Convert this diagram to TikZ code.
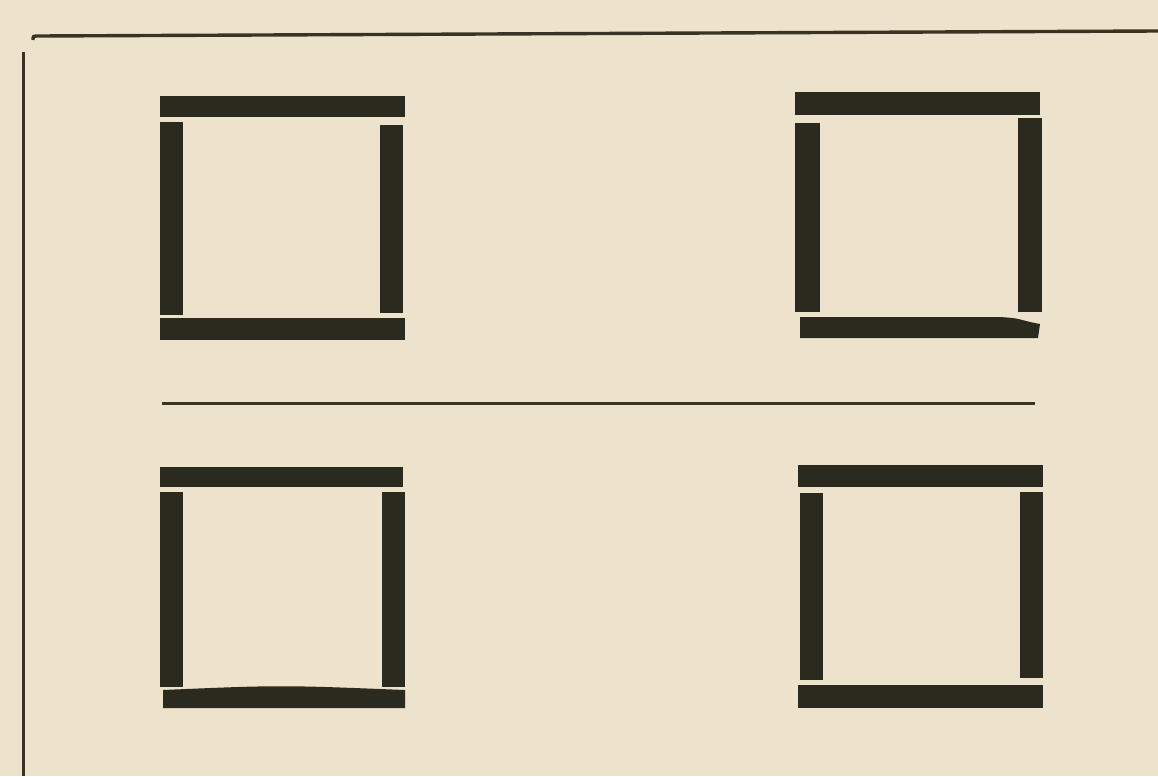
\documentclass[tikz,border=0pt]{standalone}
\definecolor{paper}{HTML}{EDE3CD}
\definecolor{ink}{HTML}{2A2A1E}
\definecolor{rule}{HTML}{3A3222}
\tikzset{
  bar/.style={fill=ink, draw=none},
  frameline/.style={draw=rule, line width=3.4pt},
  midline/.style={draw=rule, line width=2.6pt},
}
\begin{document}
\begin{tikzpicture}[x=1pt, y=-1pt]
\fill[paper] (0,0) rectangle (1158,776);
\useasboundingbox (0,0) rectangle (1158,776);
% frame
\draw[frameline] (23.5,776) -- (23.5,52);
\draw[frameline] (33,40) .. controls (33,36) .. (39,36) -- (1158,31);
% middle rule
\draw[midline] (162,403.5) -- (1035,403.5);
% top-left square
\fill[bar] (160,96) rectangle (405,117);
\fill[bar] (160,122) rectangle (183,315);
\fill[bar] (380,125) rectangle (403,313);
\fill[bar] (160,318) rectangle (405,340);
% top-right square
\fill[bar] (795,92) rectangle (1040,115);
\fill[bar] (795,123) rectangle (820,312);
\fill[bar] (1018,118) rectangle (1042,312);
\fill[bar] (800,317) -- (1000,317) .. controls (1015,318) .. (1030,322) -- (1040,324) -- (1038,338) -- (800,338) -- cycle;
% bottom-left square
\fill[bar] (160,467) rectangle (403,487);
\fill[bar] (160,492) rectangle (183,687);
\fill[bar] (382,492) rectangle (405,687);
\fill[bar] (163,690) .. controls (280,685) .. (405,690) -- (405,708) -- (163,708) -- cycle;
% bottom-right square
\fill[bar] (798,465) rectangle (1043,487);
\fill[bar] (800,493) rectangle (823,680);
\fill[bar] (1020,492) rectangle (1043,678);
\fill[bar] (798,685) rectangle (1043,708);
\end{tikzpicture}
\end{document}
